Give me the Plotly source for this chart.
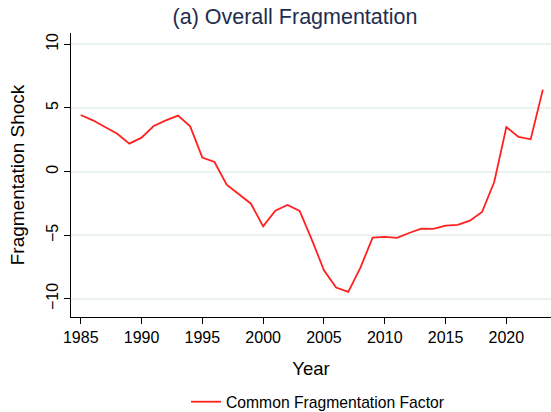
import plotly.graph_objects as go

years = list(range(1985, 2024))
shock = [4.45, 4.03, 3.5, 2.98, 2.2, 2.67, 3.58, 4.03, 4.4, 3.56,
         1.1, 0.76, -1.02, -1.78, -2.52, -4.3, -3.07, -2.62, -3.09, -5.34,
         -7.75, -9.11, -9.45, -7.54, -5.18, -5.13, -5.21, -4.82, -4.48, -4.5,
         -4.24, -4.19, -3.85, -3.17, -0.82, 3.5, 2.72, 2.54, 6.44]
x_ticks = [1985, 1990, 1995, 2000, 2005, 2010, 2015, 2020]
y_ticks = [-10, -5, 0, 5, 10]

FONT = "Liberation Sans, Arial, Helvetica, sans-serif"

fig = go.Figure()
fig.add_trace(go.Scatter(x=years, y=shock, mode="lines",
                         name="Common Fragmentation Factor",
                         line=dict(color="#ff2020", width=1.8)))

fig.update_layout(
    width=551, height=412,
    margin=dict(l=71, r=0, t=33, b=95),
    paper_bgcolor="white", plot_bgcolor="white",
    font=dict(family=FONT, color="black"),
    title=dict(text="(a) Overall Fragmentation", x=295/551, xanchor="center",
               xref="container", yref="container", y=1-16/412, yanchor="middle",
               font=dict(size=21.5, color="#1f2d4f")),
    showlegend=True,
    legend=dict(orientation="h", xref="container", yref="container",
                x=186/551, xanchor="left", y=1-402/412, yanchor="middle",
                font=dict(size=15.7), bgcolor="rgba(0,0,0,0)"),
    xaxis=dict(range=[1984.2, 2023.67], tickvals=x_ticks,
               showline=True, linecolor="black", linewidth=1,
               ticks="outside", ticklen=6, tickcolor="black",
               tickfont=dict(size=16), showgrid=False, zeroline=False,
               title=dict(text="Year", font=dict(size=18.5), standoff=16),
               automargin=False),
    yaxis=dict(range=[-11.42, 10.89], tickvals=y_ticks, tickangle=-90,
               showline=True, linecolor="black", linewidth=1,
               ticks="outside", ticklen=6, tickcolor="black",
               tickfont=dict(size=16), showgrid=True, gridcolor="#eaf1f1",
               gridwidth=1.5, zeroline=False,
               title=dict(text="Fragmentation Shock", font=dict(size=19), standoff=13),
               automargin=False),
)

fig.write_html("out.html", config={"displayModeBar": False},
               post_script="document.body.style.margin='0';document.body.style.overflow='hidden';")
